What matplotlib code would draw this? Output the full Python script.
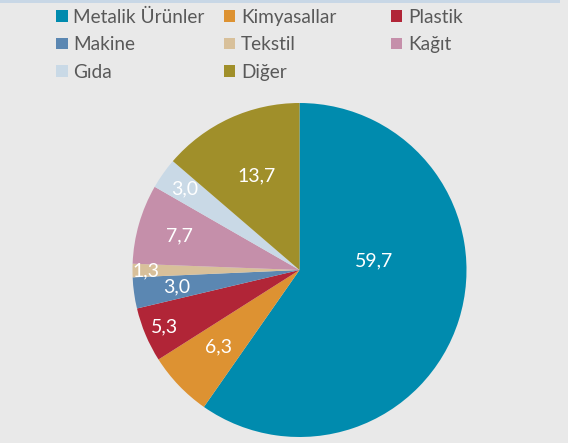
import matplotlib
matplotlib.use("Agg")
import matplotlib.pyplot as plt
import numpy as np
from matplotlib.patches import Rectangle

labels = ["Metalik Ürünler", "Kimyasallar", "Plastik", "Makine", "Tekstil", "Kağıt", "Gıda", "Diğer"]
values = [59.7, 6.3, 5.3, 3.0, 1.3, 7.7, 3.0, 13.7]
value_texts = ["59,7", "6,3", "5,3", "3,0", "1,3", "7,7", "3,0", "13,7"]
colors = ["#008BAE", "#DD9232", "#B12537", "#5B87B2", "#D8C09A", "#C58FAA", "#C9D9E6", "#A08F2A"]

# label layout (radial fraction, angular offset in degrees)
label_r = [0.45, 0.67, 0.88, 0.74, 0.92, 0.75, 0.84, 0.62]
label_dang = [24.5, 0, 0, 0, 0, 0, 0, 0]

W, H = 568, 443
plt.rcParams['font.family'] = ['Lato', 'DejaVu Sans']
fig = plt.figure(figsize=(W/100, H/100), dpi=100)
fig.patch.set_facecolor("#E9E9E9")

# top band
fig.add_artist(Rectangle((0, 1 - 3/H), 560/W, 3/H, transform=fig.transFigure,
                         facecolor="#C8D7E6", edgecolor="none"))

cx, cy, R = 299.5, 443 - 270, 167
ax = fig.add_axes([(cx - R)/W, (cy - R)/H, 2*R/W, 2*R/H])
ax.set_facecolor("none")
wedges, _ = ax.pie(values, colors=colors, startangle=90, counterclock=False,
                   radius=1, wedgeprops=dict(linewidth=0))
ax.set_xlim(-1, 1)
ax.set_ylim(-1, 1)
ax.set_aspect("equal")
ax.axis("off")

total = sum(values)
cum = 0
for v, t, r, da in zip(values, value_texts, label_r, label_dang):
    mid = 90 - 360 * (cum + v / 2) / total + da
    cum += v
    a = np.deg2rad(mid)
    ax.text(r*np.cos(a), r*np.sin(a), t, ha="center", va="center",
            color="white", fontsize=14)

# legend
col_x = [56, 224, 391]
row_y = [16, 43.3, 70.8]
msize = 11.5
for i, (lab, c) in enumerate(zip(labels, colors)):
    row, col = divmod(i, 3)
    x, y = col_x[col], row_y[row]
    fig.add_artist(Rectangle((x/W, (H - y - msize/2)/H), msize/W, msize/H,
                             transform=fig.transFigure, facecolor=c, edgecolor="none"))
    fig.text((x + 17)/W, (H - y)/H, lab, ha="left", va="center_baseline",
             color="#595959", fontsize=13.7)

fig.savefig("out.png", dpi=100, facecolor=fig.get_facecolor())
